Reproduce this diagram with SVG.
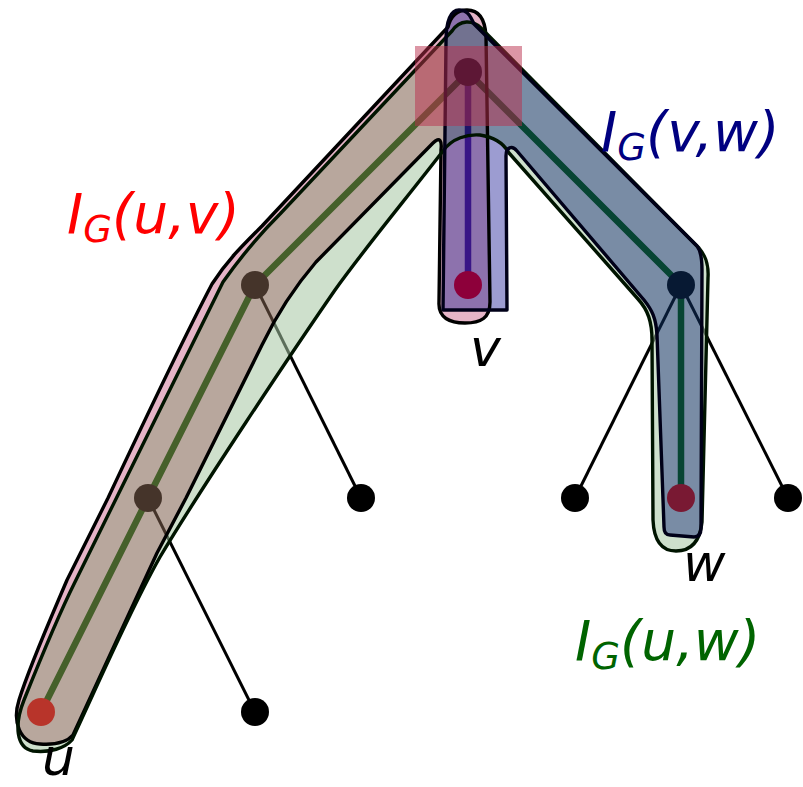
<svg xmlns="http://www.w3.org/2000/svg" xmlns:xlink="http://www.w3.org/1999/xlink" width="803" height="787" viewBox="0 0 803 787">
<style>
.edge{stroke:#000;stroke-width:3;fill:none}
.node{fill:#000}
.end{fill:#ff0000}
.outline{fill:none;stroke-width:3.4;stroke-linejoin:round}
.lbl{font-family:"DejaVu Sans","Liberation Sans",sans-serif;font-style:italic;font-size:55px}
.sub{font-size:37px}
.pt{font-family:"DejaVu Sans","Liberation Sans",sans-serif;font-style:italic;font-size:52px}
</style>
<defs>
<path id="pG" d="M 33,751 C 50,753 65,748 72,740 C 100,680 130,610 160,557 C 200,490 290,355 335,290 C 365,248 405,200 443,151 C 452,138 468,134 480,135 C 494,137 504,144 509,153 L 638,299 C 648,310 652,322 652,340 L 653,520 C 654,543 663,551 676,551 C 691,551 700,541 702,522 L 708,278 C 709,263 705,255 699,248 L 481,28 C 473,20 460,19 452,31 L 280,214 C 262,232 240,258 223,282 L 75,582 C 60,612 40,660 24,700 C 14,725 16,748 33,751 Z"/>
<path id="pP" d="M 40,744 C 55,745 67,742 73,735 L 157,553 L 186,498 L 262,345 C 276,316 292,290 316,262 L 433,143 C 440,136 442,141 441,150 L 439,302 C 438,318 450,323 465,323 C 481,323 490,318 490,302 L 486,36 C 485,18 478,10 467,10 C 457,10 451,15 448,27 L 262,226 C 240,248 226,262 212,284 C 180,345 140,430 108,498 L 67,580 C 50,620 30,665 19,700 C 12,722 20,743 40,744 Z"/>
<path id="pB" d="M 443,310 L 446,42 C 446,20 451,10 459,10 C 467,10 470,15 474,24 L 697,246 C 701,251 702,258 702,270 L 701,528 C 701,534 699,537 694,537 L 670,535 C 666,535 664,532 664,527 L 657,335 C 656,318 652,310 644,300 L 517,151 C 512,145 506,147 506,156 L 507,310 Z"/>
<clipPath id="cG"><use xlink:href="#pG" href="#pG"/></clipPath>
<clipPath id="cP"><use xlink:href="#pP" href="#pP"/></clipPath>
</defs>

<g id="connectors">
<line class="edge" x1="468" y1="72" x2="255" y2="285"/>
<line class="edge" x1="468" y1="72" x2="468" y2="285"/>
<line class="edge" x1="468" y1="72" x2="681" y2="285"/>
<line class="edge" x1="255" y1="285" x2="148" y2="498"/>
<line class="edge" x1="255" y1="285" x2="361" y2="498"/>
<line class="edge" x1="148" y1="498" x2="41" y2="712"/>
<line class="edge" x1="148" y1="498" x2="255" y2="712"/>
<line class="edge" x1="681" y1="285" x2="575" y2="498"/>
<line class="edge" x1="681" y1="285" x2="681" y2="498"/>
<line class="edge" x1="681" y1="285" x2="788" y2="498"/>
</g>

<g id="path-lines">
<polyline points="41,712 148,498 255,285 468,72 681,285 681,498" fill="none" stroke="#006000" stroke-width="6.5"/>
<line x1="468" y1="72" x2="468" y2="285" stroke="#4530a9" stroke-width="6.5"/>
</g>

<g id="node-r"><circle class="node" cx="468" cy="72" r="14"/></g>
<g id="node-a"><circle class="node" cx="255" cy="285" r="14"/></g>
<g id="node-v"><circle class="end" cx="468" cy="285" r="14"/></g>
<g id="node-b"><circle class="node" cx="681" cy="285" r="14"/></g>
<g id="node-c"><circle class="node" cx="148" cy="498" r="14"/></g>
<g id="node-d"><circle class="node" cx="361" cy="498" r="14"/></g>
<g id="node-e"><circle class="node" cx="575" cy="498" r="14"/></g>
<g id="node-w"><circle class="end" cx="681" cy="498" r="14"/></g>
<g id="node-f"><circle class="node" cx="788" cy="498" r="14"/></g>
<g id="node-u"><circle class="end" cx="41" cy="712" r="14"/></g>
<g id="node-g"><circle class="node" cx="255" cy="712" r="14"/></g>

<g id="regions" opacity="0.55">
<use xlink:href="#pG" href="#pG" fill="rgb(167,200,164)"/>
<use xlink:href="#pP" href="#pP" fill="rgb(209,120,155)"/>
<use xlink:href="#pP" href="#pP" fill="rgb(127,96,78)" clip-path="url(#cG)"/>
<use xlink:href="#pB" href="#pB" fill="rgb(76,76,173)"/>
<use xlink:href="#pB" href="#pB" fill="rgb(13,47,93)" clip-path="url(#cG)"/>
<use xlink:href="#pB" href="#pB" fill="rgb(49,0,107)" clip-path="url(#cP)"/>
<g clip-path="url(#cG)"><use xlink:href="#pB" href="#pB" fill="rgb(0,0,55)" clip-path="url(#cP)"/></g>
</g>

<g id="region-outlines">
<use xlink:href="#pP" href="#pP" class="outline" stroke="#000"/>
<use xlink:href="#pG" href="#pG" class="outline" stroke="#001400"/>
<use xlink:href="#pB" href="#pB" class="outline" stroke="#000018"/>
</g>

<g id="root-square"><rect x="415" y="46" width="107" height="80" fill="rgb(185,45,75)" opacity="0.5"/></g>

<g id="labels">
<text class="lbl" x="67" y="233" fill="#ff0000">I<tspan class="sub" dy="9">G</tspan><tspan dy="-9">(u,v)</tspan></text>
<text class="lbl" x="601" y="151" fill="#000080">I<tspan class="sub" dy="9">G</tspan><tspan dy="-9">(v,w)</tspan></text>
<text class="lbl" x="575" y="660" fill="#006400">I<tspan class="sub" dy="9">G</tspan><tspan dy="-9">(u,w)</tspan></text>
<text class="pt" x="42" y="775" fill="#000">u</text>
<text class="pt" x="470" y="366" fill="#000">v</text>
<text class="pt" x="683" y="581" fill="#000">w</text>
</g>
</svg>
